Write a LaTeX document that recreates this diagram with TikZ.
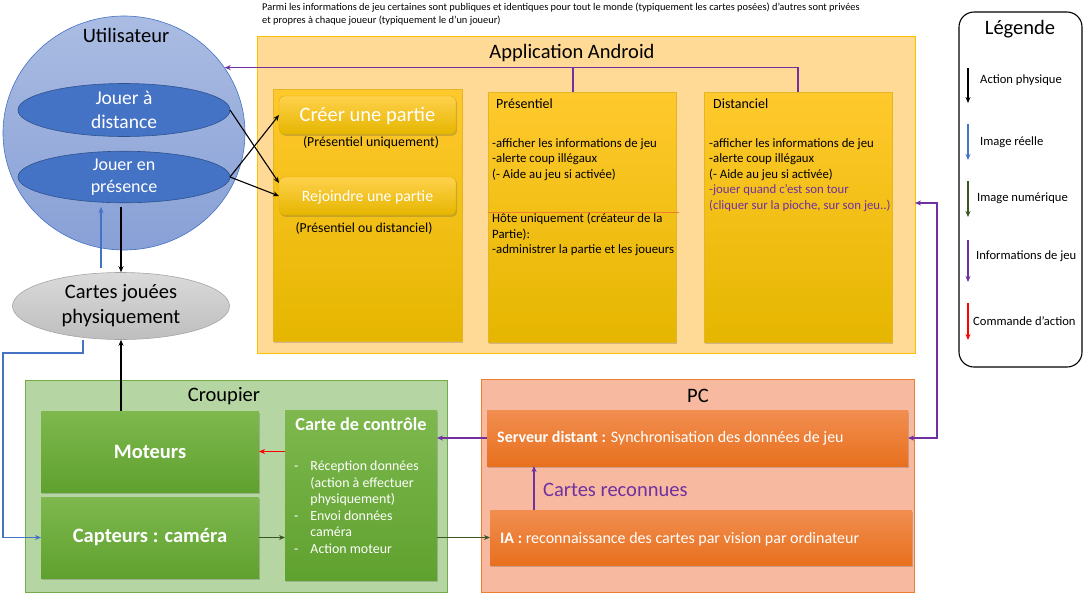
\documentclass[tikz,border=0pt]{standalone}
\usepackage{fontspec}
\setmainfont{Carlito}
\usetikzlibrary{shapes.geometric,shadows,arrows.meta,calc}

\definecolor{appfill}{RGB}{255,217,150}
\definecolor{appline}{RGB}{255,192,0}
\definecolor{goldtop}{RGB}{255,201,45}
\definecolor{goldbot}{RGB}{229,182,0}
\definecolor{usrtop}{RGB}{170,188,226}
\definecolor{usrbot}{RGB}{136,160,214}
\definecolor{usrline}{RGB}{68,114,196}
\definecolor{ovalfill}{RGB}{68,114,196}
\definecolor{ovalline}{RGB}{47,82,143}
\definecolor{greytop}{RGB}{218,218,218}
\definecolor{greybot}{RGB}{190,190,190}
\definecolor{greyline}{RGB}{165,165,165}
\definecolor{croufill}{RGB}{181,214,163}
\definecolor{crouline}{RGB}{112,173,71}
\definecolor{grntop}{RGB}{126,184,78}
\definecolor{grnbot}{RGB}{95,161,47}
\definecolor{pcfill}{RGB}{247,186,160}
\definecolor{pcline}{RGB}{237,125,49}
\definecolor{orgtop}{RGB}{241,142,80}
\definecolor{orgbot}{RGB}{232,112,30}
\definecolor{infoc}{RGB}{112,48,160}
\definecolor{realc}{RGB}{68,114,196}
\definecolor{numc}{RGB}{56,87,35}
\definecolor{cmdc}{RGB}{255,0,0}
\definecolor{hostline}{RGB}{237,125,49}

\newcommand{\fs}[2]{\fontsize{#1}{#2}\selectfont}

\tikzset{
  tip/.style={-{Stealth[length=6pt,width=5pt]}},
  phys/.style={tip, draw=black, line width=1.1pt},
  real/.style={tip, draw=realc, line width=1.1pt},
  num/.style={tip, draw=numc, line width=1.1pt},
  info/.style={tip, draw=infoc, line width=1.1pt},
  infoline/.style={draw=infoc, line width=1.1pt},
  cmd/.style={tip, draw=cmdc, line width=1.2pt},
  softshadow/.style={drop shadow={shadow xshift=1.2pt, shadow yshift=-1.8pt, opacity=0.25, fill=black!70}},
  area/.style={rectangle, anchor=north west, inner sep=0pt, outer sep=0pt, line width=0.8pt},
  goldcol/.style={area, top color=goldtop, bottom color=goldbot, draw=goldtop!90!black, line width=0.3pt, softshadow},
  goldbtn/.style={area, rounded corners=5pt, top color=goldtop!85!white, bottom color=goldbot, draw=goldbot!95!black, line width=0.4pt, softshadow},
  grnbox/.style={area, top color=grntop, bottom color=grnbot, draw=none, softshadow},
  orgbox/.style={area, top color=orgtop, bottom color=orgbot, draw=none, softshadow},
  oval/.style={ellipse, inner sep=0pt, outer sep=0pt, fill=ovalfill, draw=ovalline, line width=0.6pt, text=white, align=center},
  title/.style={inner sep=0pt, font=\fs{20.5}{24}},
  coltxt/.style={anchor=north west, inner sep=0pt, align=left, font=\fs{12.8}{15.5}},
  legtxt/.style={anchor=west, inner sep=0pt, font=\fs{12.6}{14}},
}

\begin{document}
\begin{tikzpicture}[x=1pt,y=-1pt]
\useasboundingbox (0,0) rectangle (1087,611);

% ---------- note above the application ----------
\node[anchor=north west, inner sep=0pt, align=left, font=\fs{10.4}{13}] (note) at (262,3)
  {Parmi les informations de jeu certaines sont publiques et identiques pour tout le monde (typiquement les cartes posées) d’autres sont privées\\
   et propres à chaque joueur (typiquement le d’un joueur)};

% ---------- Application Android ----------
\node[area, fill=appfill, draw=appline, minimum width=658pt, minimum height=317pt] (app) at (257,36) {};
\node[title] (apptitle) at (572,53) {Application Android};

\node[goldcol, minimum width=189pt, minimum height=252pt] (col1) at (273,89) {};
\node[goldcol, minimum width=188pt, minimum height=250pt] (col2) at (488,92) {};
\node[goldcol, minimum width=188pt, minimum height=250pt] (col3) at (704,92) {};

\node[goldbtn, minimum width=177pt, minimum height=38pt] (creer) at (279,96) {};
\node[text=white, inner sep=0pt, font=\fs{20.5}{23}] (creertxt) at ($(creer.center)+(0,1)$) {Créer une partie};
\node[inner sep=0pt, font=\fs{13.8}{16}] (creersub) at (371,143) {(Présentiel uniquement)};

\node[goldbtn, minimum width=177pt, minimum height=38pt] (rej) at (279,177) {};
\node[text=white, inner sep=0pt, font=\fs{15.8}{18}] (rejtxt) at ($(rej.center)+(0,1)$) {Rejoindre une partie};
\node[inner sep=0pt, font=\fs{13.7}{16}] (rejsub) at (364,228) {(Présentiel ou distanciel)};

% Présentiel column
\node[coltxt, font=\fs{14}{16}] (prestitle) at (496,99) {Présentiel};
\node[coltxt] (preslist) at (492,138) {-afficher les informations de jeu\\-alerte coup illégaux\\(- Aide au jeu si activée)};
\draw[hostline, line width=0.6pt] (col2.north west |- 0,212) -- ++(191,0);
\node[coltxt] (hostlist) at (492,213) {Hôte uniquement (créateur de la\\Partie):\\-administrer la partie et les joueurs};

% Distanciel column
\node[coltxt, font=\fs{14}{16}] (distitle) at (713,99) {Distanciel};
\node[coltxt] (dislist) at (709,138) {-afficher les informations de jeu\\-alerte coup illégaux\\(- Aide au jeu si activée)\\
  \textcolor{infoc}{-jouer quand c’est son tour}\\\textcolor{infoc}{(cliquer sur la pioche, sur son jeu..)}};

% ---------- Utilisateur ----------
\node[ellipse, inner sep=0pt, minimum width=242pt, minimum height=234pt,
      top color=usrtop, bottom color=usrbot, draw=usrline, line width=0.6pt] (user) at (124,133) {};
\node[title] (usertitle) at (126,35) {Utilisateur};
\node[oval, minimum width=212pt, minimum height=51pt, font=\fs{19.5}{24}] (dist) at (124,110) {Jouer à\\distance};
\node[oval, minimum width=212pt, minimum height=50pt, font=\fs{18}{22}] (pres) at (124,177) {Jouer en\\présence};

\node[ellipse, inner sep=0pt, minimum width=217pt, minimum height=67pt, align=center,
      top color=greytop, bottom color=greybot, draw=greyline, line width=0.6pt, font=\fs{20.5}{25}] (cartes) at (121,306) {Cartes jouées\\physiquement};

% ---------- Croupier ----------
\node[area, fill=croufill, draw=crouline, minimum width=422pt, minimum height=212pt] (crou) at (25,380) {};
\node[title] (croutitle) at (224,396) {Croupier};
\node[grnbox, minimum width=218pt, minimum height=81pt] (mot) at (41,411) {};
\node[text=white, inner sep=0pt, font=\bfseries\fs{20.5}{24}] (mottxt) at (mot.center) {Moteurs};
\node[grnbox, minimum width=218pt, minimum height=81pt] (capt) at (41,497) {};
\node[text=white, inner sep=0pt, font=\bfseries\fs{20.5}{24}] (capttxt) at (capt.center) {Capteurs : caméra};
\node[grnbox, minimum width=152pt, minimum height=170pt] (ctl) at (285,410) {};
\node[text=white, inner sep=0pt, font=\bfseries\fs{18.3}{21}] (ctltitle) at (361,424) {Carte de contrôle};
\node[anchor=north west, inner sep=0pt, text=white, font=\fs{13.9}{16.5}] (ctllist) at (294,459)
  {\begin{tabular}{@{}l@{\hspace{12pt}}l@{}}
   -&Réception données\\ &(action à effectuer\\ &physiquement)\\
   -&Envoi données\\ &caméra\\
   -&Action moteur
   \end{tabular}};

% ---------- PC ----------
\node[area, fill=pcfill, draw=pcline, minimum width=433pt, minimum height=213pt] (pc) at (481,379) {};
\node[title] (pctitle) at (698,396) {PC};
\node[orgbox, minimum width=421pt, minimum height=56pt] (serv) at (487,410) {};
\node[anchor=west, text=white, inner sep=0pt, font=\fs{16}{19}] (servtxt) at (497,438)
  {\textbf{Serveur distant :} Synchronisation des données de jeu};
\node[orgbox, minimum width=422pt, minimum height=55pt] (ia) at (490,510) {};
\node[anchor=west, text=white, inner sep=0pt, font=\fs{16}{19}] (iatxt) at (500,539)
  {\textbf{IA :} reconnaissance des cartes par vision par ordinateur};
\node[anchor=west, text=infoc, inner sep=0pt, font=\fs{20.5}{23}] (reco) at (543,490) {Cartes reconnues};

% ---------- Légende ----------
\node[area, rounded corners=15pt, draw=black, line width=1.1pt, minimum width=123pt, minimum height=355pt] (leg) at (959,12) {};
\node[title] (legtitle) at (1020,29) {Légende};
\coordinate (l1a) at (968,68);  \coordinate (l1b) at (968,103);
\coordinate (l2a) at (968,124); \coordinate (l2b) at (968,160);
\coordinate (l3a) at (968,181); \coordinate (l3b) at (968,217);
\coordinate (l4a) at (968,240); \coordinate (l4b) at (968,282);
\coordinate (l5a) at (968,303); \coordinate (l5b) at (968,340);
\draw[phys] (l1a) -- (l1b);
\draw[real] (l2a) -- (l2b);
\draw[num]  (l3a) -- (l3b);
\draw[info] (l4a) -- (l4b);
\draw[cmd]  (l5a) -- (l5b);
\node[legtxt] (lt1) at (980,80)  {Action physique};
\node[legtxt] (lt2) at (980,142) {Image réelle};
\node[legtxt] (lt3) at (977,198) {Image numérique};
\node[legtxt] (lt4) at (976,256) {Informations de jeu};
\node[legtxt] (lt5) at (973,321) {Commande d’action};

% ---------- connectors ----------
% choice of game mode
\draw[phys] (dist.east) -- ($(rej.west)+(0,-13)$);
\draw[phys] (pres.east) -- (creer.west);
\draw[phys] (pres.east) -- (rej.west);

% game information back to the user
\coordinate (col2top) at ($(col2.north west)+(85,0)$);
\draw[info] (col3.north) |- (user.33);
\draw[infoline] (col2top) -- (col2top |- user.33);

% physical cards <-> user
\coordinate (usrdown) at (121,207);
\coordinate (usrup) at (101,207);
\coordinate (cartup) at (101,268);
\draw[phys] (usrdown) -- (cartes.north);
\draw[real] (cartup) -- (usrup);

% camera view of the table
\coordinate (bend) at (3,353);
\draw[real] ($(cartes.south)+(-38,0)$) |- (bend) |- (capt.west);

% motors act on the cards
\draw[phys] (mot.north -| cartes.south) -- (cartes.south);

% inside the dealer and the PC
\draw[cmd] (ctl.west |- mot.east) -- (mot.east);
\draw[num] (capt.east) -- (ctl.west |- capt.east);
\draw[num] (ctl.east |- ia.west) -- (ia.west);
\draw[info] (serv.west) -- (ctl.east |- serv.west);
\draw[info] ($(ia.north west)+(44,0)$) -- ($(serv.south west)+(47,0)$);

% server <-> application
\draw[info, {Stealth[length=6pt,width=5pt]}-{Stealth[length=6pt,width=5pt]}]
  (serv.east) -- ++(29,0) |- ($(app.north east)+(0,167)$);

\end{tikzpicture}
\end{document}
